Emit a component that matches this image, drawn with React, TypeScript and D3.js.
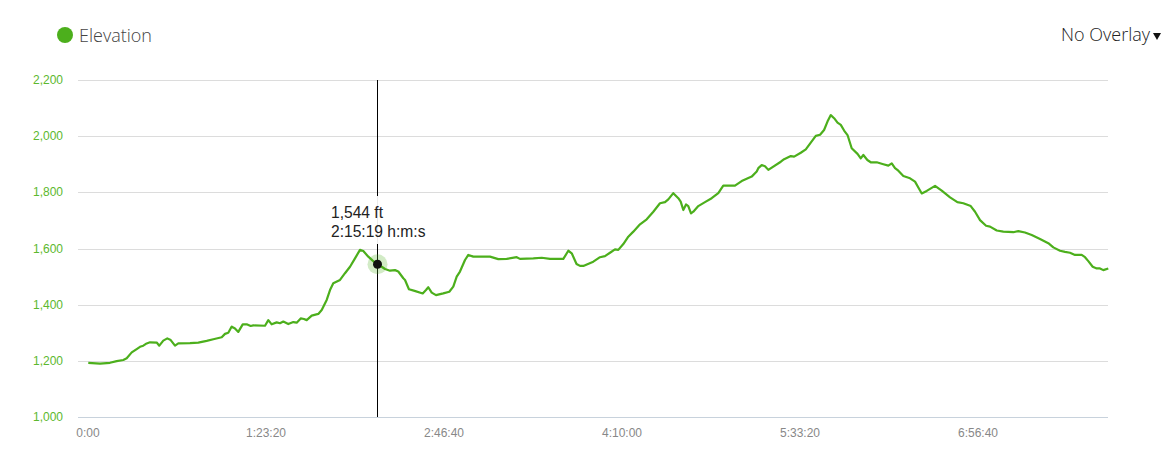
import React from "react";
import * as d3 from "d3";

// elapsed time (seconds) and elevation (ft)
const timeSec = [
  8, 337, 618, 806, 992, 1087, 1228, 1368, 1461, 1553, 1649, 1742, 1930, 2003, 2115, 2228, 2323, 2444, 2537,
  2865, 3098, 3334, 3520, 3756, 3848, 3941, 4037, 4129, 4222, 4346, 4458, 4570, 4643, 4972, 5065, 5160, 5301,
  5393, 5486, 5626, 5767, 5862, 5975, 6067, 6143, 6284, 6469, 6565, 6705, 6798, 6890, 7079, 7219, 7360, 7500,
  7640, 7733, 7874, 7997, 8119, 8250, 8343, 8483, 8624, 8716, 8857, 8905, 9015, 9174, 9402, 9494, 9559, 9655,
  9775, 9980, 10149, 10261, 10357, 10449, 10590, 10683, 10823, 11292, 11525, 11761, 12042, 12135, 12509, 12745,
  12978, 13352, 13492, 13588, 13723, 13821, 13913, 14194, 14382, 14522, 14663, 14803, 14896, 15037, 15177, 15318,
  15506, 15694, 15880, 16067, 16208, 16301, 16441, 16582, 16649, 16722, 16798, 16862, 16938, 17003, 17143, 17331,
  17519, 17705, 17845, 18174, 18362, 18643, 18784, 18829, 18924, 19017, 19110, 19461, 19554, 19742, 19835, 20022,
  20163, 20303, 20443, 20564, 20676, 20772, 20865, 20958, 21054, 21146, 21239, 21335, 21452, 21616, 21706, 21779,
  21892, 21987, 22155, 22341, 22481, 22577, 22669, 22762, 22903, 23091, 23231, 23324, 23420, 23560, 23793, 23981,
  24215, 24420, 24588, 24796, 24917, 25057, 25226, 25338, 25527, 25711, 25992, 26133, 26320, 26509, 26742, 26975,
  27116, 27304, 27444, 27584, 27725, 27913, 28006, 28099, 28222, 28335, 28427, 28520, 28660,
];
const elevationFt = [
  1193, 1190, 1193, 1199, 1203, 1209, 1230, 1242, 1250, 1254, 1262, 1266, 1265, 1254, 1272, 1280, 1274, 1254, 1262,
  1263, 1265, 1271, 1277, 1284, 1296, 1300, 1322, 1315, 1303, 1330, 1330, 1324, 1326, 1325, 1345, 1330, 1337,
  1334, 1340, 1331, 1338, 1336, 1351, 1349, 1345, 1361, 1367, 1381, 1417, 1452, 1476, 1488, 1512, 1535, 1565,
  1595, 1591, 1571, 1557, 1544, 1535, 1527, 1521, 1523, 1518, 1494, 1488, 1455, 1449, 1440, 1452, 1462, 1443,
  1434, 1440, 1446, 1464, 1500, 1518, 1559, 1577, 1571, 1571, 1562, 1563, 1569, 1563, 1565, 1567,
  1563, 1563, 1592, 1583, 1545, 1538, 1538, 1553, 1569, 1573, 1585, 1597, 1595, 1616, 1642, 1660,
  1686, 1704, 1731, 1761, 1765, 1775, 1797, 1779, 1767, 1737, 1757, 1751, 1725, 1731, 1751, 1765,
  1779, 1797, 1824, 1824, 1840, 1856, 1874, 1886, 1897, 1893, 1880, 1909, 1918, 1929, 1927, 1941,
  1953, 1977, 2001, 2005, 2022, 2052, 2075, 2064, 2048, 2040, 2020, 2004, 1957, 1937, 1921, 1933,
  1915, 1907, 1907, 1900, 1895, 1903, 1886, 1877, 1858, 1850, 1838, 1817, 1796, 1805, 1823, 1806,
  1782, 1765, 1761, 1751, 1731, 1701, 1681, 1678, 1664, 1660, 1658, 1662, 1657, 1648, 1634, 1619,
  1604, 1592, 1588, 1585, 1577, 1577, 1569, 1555, 1535, 1529, 1529, 1523, 1529,
];

const yTicks = [1000, 1200, 1400, 1600, 1800, 2000, 2200];
const xTicks = [0, 5000, 10000, 15000, 20000, 25000];

// hovered point
const hoverTime = 8119;
const hoverElev = 1544;

const GREEN = "#4caf1c";

const fmtTime = (t: number) => {
  if (t === 0) return "0:00";
  const h = Math.floor(t / 3600);
  const m = Math.floor((t % 3600) / 60);
  const s = Math.round(t % 60);
  return `${h}:${String(m).padStart(2, "0")}:${String(s).padStart(2, "0")}`;
};

const App: React.FC = () => {
  const width = 1168;
  const height = 456;
  const left = 78;
  const right = 1108;

  const x = d3.scaleLinear().domain([0, 28660]).range([88, 88 + (28660 * 178) / 5000]);
  const y = d3.scaleLinear().domain([1000, 2200]).range([417, 80]);

  const data = timeSec.map((t, i) => ({ t, e: elevationFt[i] }));
  const line = d3
    .line<{ t: number; e: number }>()
    .x((d) => x(d.t))
    .y((d) => y(d.e));

  const hx = Math.round(x(hoverTime)) + 0.5;
  const hy = y(hoverElev);
  const fmtNum = d3.format(",");

  return (
    <div style={{ position: "absolute", left: 0, top: 0 }}>
      <svg width={width} height={height} style={{ display: "block", fontFamily: "'Liberation Sans', Arial, sans-serif" }}>
        {/* legend */}
        <circle cx={65} cy={35} r={8} fill={GREEN} />
        <text x={79} y={42} fontSize={18} fill="#444" fontFamily="'Open Sans', sans-serif" fontWeight={300}>
          Elevation
        </text>
        <text x={1150} y={41} fontSize={18} fill="#222" textAnchor="end" fontFamily="'Open Sans', sans-serif" fontWeight={300}>
          No Overlay
        </text>
        <path d="M1153,33 L1161,33 L1157,40 Z" fill="#111" />

        {/* grid + y labels */}
        {yTicks.map((v) => (
          <g key={v}>
            <line
              x1={left}
              x2={right}
              y1={Math.round(y(v)) + 0.5}
              y2={Math.round(y(v)) + 0.5}
              stroke={v === 1000 ? "#c8d2dc" : "#dcdcdc"}
              strokeWidth={1}
            />
            <text x={63} y={y(v) + 4} fontSize={12} fill="#5cb82e" textAnchor="end">
              {fmtNum(v)}
            </text>
          </g>
        ))}

        {/* x labels */}
        {xTicks.map((t) => (
          <text key={t} x={x(t)} y={437} fontSize={12} fill="#888" textAnchor="middle">
            {fmtTime(t)}
          </text>
        ))}

        {/* crosshair */}
        <line x1={hx} x2={hx} y1={80} y2={417} stroke="#000" strokeWidth={1} />

        {/* elevation line */}
        <path d={line(data) || ""} fill="none" stroke={GREEN} strokeWidth={2.2} strokeLinejoin="round" />

        {/* tooltip */}
        <rect x={326} y={196} width={104} height={48} fill="#fff" fillOpacity={0.92} />
        <text x={331} y={218} fontSize={15.6} fill="#222">
          {fmtNum(hoverElev)} ft
        </text>
        <text x={331} y={237} fontSize={15.6} fill="#222">
          {fmtTime(hoverTime)} h:m:s
        </text>
        <circle cx={hx} cy={hy} r={10} fill={GREEN} fillOpacity={0.25} />
        <circle cx={hx} cy={hy} r={4.5} fill="#111" />
      </svg>
    </div>
  );
};

export default App;
